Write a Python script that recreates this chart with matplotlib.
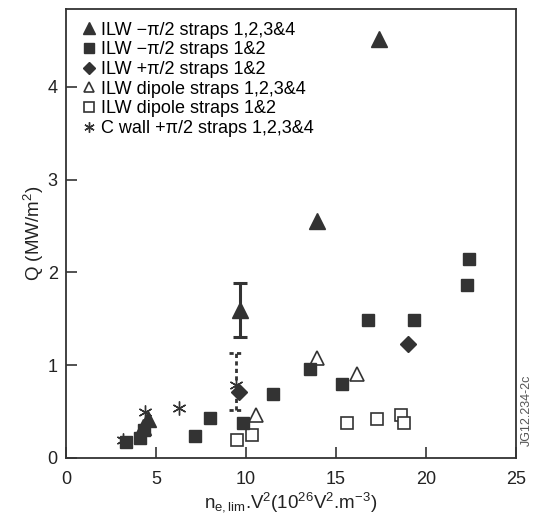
import matplotlib
matplotlib.use("Agg")
import matplotlib.pyplot as plt

plt.rcParams['font.family'] = ['Liberation Sans', 'DejaVu Sans']
plt.rcParams['mathtext.fontset'] = 'custom'
plt.rcParams['mathtext.rm'] = 'Liberation Sans'
plt.rcParams['mathtext.it'] = 'Liberation Sans:italic'
plt.rcParams['mathtext.bf'] = 'Liberation Sans:bold'

# ---- data ----
tri_m4_x = [17.39, 13.93, 9.67, 4.25, 4.55]
tri_m4_y = [4.52, 2.56, 1.59, 0.33, 0.42]

sq_m12_x = [22.41, 22.30, 16.80, 19.35, 13.57, 15.35, 11.52, 9.85, 8.00, 7.17, 4.35, 4.10, 3.35]
sq_m12_y = [2.15, 1.86, 1.49, 1.49, 0.96, 0.80, 0.69, 0.38, 0.43, 0.24, 0.30, 0.22, 0.17]

dia_p12_x = [19.02, 9.63]
dia_p12_y = [1.23, 0.71]

otri_d4_x = [13.93, 16.18, 10.56]
otri_d4_y = [1.075, 0.91, 0.46]

osq_d12_x = [15.59, 17.26, 18.59, 18.78, 10.31, 9.52]
osq_d12_y = [0.38, 0.42, 0.46, 0.38, 0.245, 0.19]

ast_c_x = [3.15, 4.40, 6.28, 9.44]
ast_c_y = [0.19, 0.50, 0.54, 0.79]

# error bars: x, low, high
err_solid = (9.67, 1.30, 1.89)
err_dotted = (9.44, 0.52, 1.13)

labels = ['ILW \u2212\u03c0/2 straps 1,2,3&4',
          'ILW \u2212\u03c0/2 straps 1&2',
          'ILW +\u03c0/2 straps 1&2',
          'ILW dipole straps 1,2,3&4',
          'ILW dipole straps 1&2',
          'C wall +\u03c0/2 straps 1,2,3&4']

xticks = [0, 5, 10, 15, 20, 25]
yticks = [0, 1, 2, 3, 4]

dark = '#333333'

fig = plt.figure(figsize=(5.33, 5.19), dpi=100)
ax = fig.add_axes([66/533, 61/519, 450/533, 449/519])

# error bars
ex, elo, ehi = err_solid
ax.vlines(ex, elo, ehi, color=dark, lw=2.2, zorder=2)
ax.hlines([elo, ehi], ex - 0.4, ex + 0.4, color=dark, lw=2.2, zorder=2)
ex, elo, ehi = err_dotted
ax.vlines(ex, elo, ehi, color=dark, lw=2.0, linestyles=(0, (1.5, 1.2)), zorder=2)
ax.hlines([elo, ehi], ex - 0.4, ex + 0.4, color=dark, lw=2.0, linestyles=(0, (1.5, 1.2)), zorder=2)

h = []
h.append(ax.plot(tri_m4_x, tri_m4_y, ls='none', marker='^', ms=12, mfc=dark, mec=dark, zorder=4)[0])
h.append(ax.plot(sq_m12_x, sq_m12_y, ls='none', marker='s', ms=9, mfc=dark, mec=dark, zorder=4)[0])
h.append(ax.plot(dia_p12_x, dia_p12_y, ls='none', marker='D', ms=8.5, mfc=dark, mec=dark, zorder=4)[0])
h.append(ax.plot(otri_d4_x, otri_d4_y, ls='none', marker='^', ms=10.5, mfc='white', mec=dark, mew=1.2, zorder=3)[0])
h.append(ax.plot(osq_d12_x, osq_d12_y, ls='none', marker='s', ms=9, mfc='white', mec=dark, mew=1.2, zorder=3)[0])
h.append(ax.plot(ast_c_x, ast_c_y, ls='none', marker=(6, 2, 0), ms=10, mec=dark, mew=1.0, zorder=3)[0])

leg = ax.legend(h, labels, loc='upper left', bbox_to_anchor=(0.01, 1.0), frameon=False, fontsize=13,
                handlelength=0.7, handletextpad=0.3, labelspacing=0.15,
                borderaxespad=0.3, markerscale=0.75)

ax.set_xlim(0, 25)
ax.set_ylim(0, 4.84)
ax.set_xticks(xticks)
ax.set_yticks(yticks)
ax.tick_params(direction='in', length=8, width=1.2, color=dark, labelsize=13, labelcolor='#222222', pad=6)
ax.tick_params(axis='x', pad=9)
for s in ax.spines.values():
    s.set_color(dark)
    s.set_linewidth(1.3)

ax.set_xlabel(r'n$_{\mathrm{e,lim}}$.V$^{2}$(10$^{26}$V$^{2}$.m$^{-3}$)', fontsize=13.5, color='#222222', labelpad=2)
ax.set_ylabel(r'Q (MW/m$^{2}$)', fontsize=13.5, color='#222222', labelpad=1)

fig.text(527/533, 1 - 410/519, 'JG12.234-2c', rotation=90, fontsize=9, color='#555555',
         ha='center', va='center')

fig.savefig('out.png', dpi=100)
